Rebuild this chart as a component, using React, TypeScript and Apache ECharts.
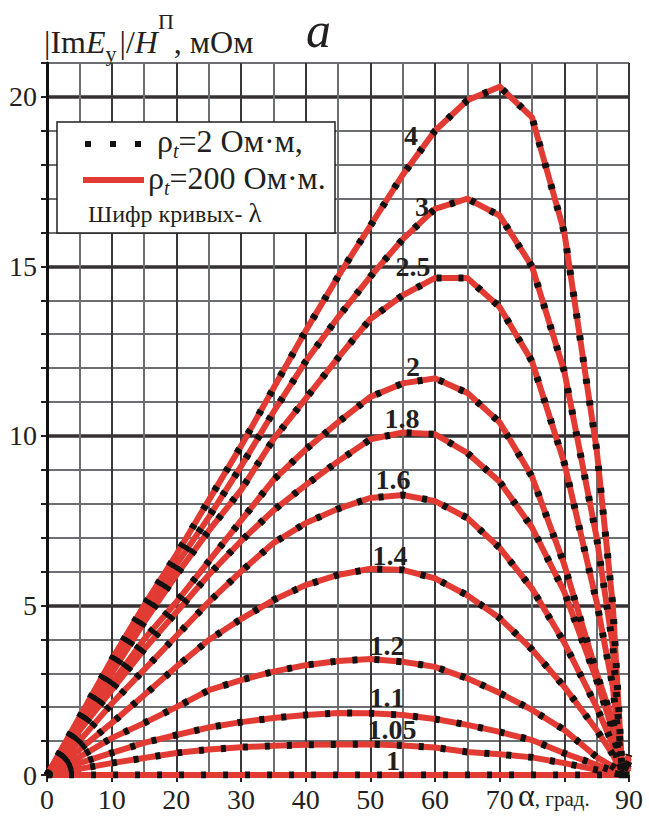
import React, { useEffect, useRef } from "react";
import * as echarts from "echarts";

// angle values (degrees)
const alpha = [0, 5, 10, 15, 20, 25, 30, 35, 40, 45, 50, 55, 60, 65, 70, 75, 80, 85, 87.5, 89, 90];

// curve cipher λ
const lambdaNames = ["4", "3", "2.5", "2", "1.8", "1.6", "1.4", "1.2", "1.1", "1.05", "1"];

// |Im Ey|/H, mOhm
const curve4 = [0, 1.7, 3.4, 5.0, 6.5, 8.1, 9.7, 11.4, 13.1, 14.7, 16.2, 17.7, 19.0, 19.9, 20.3, 19.4, 16.0, 9.6, 5.0, 0, 0.6];
const curve3 = [0, 1.6, 3.2, 4.7, 6.2, 7.6, 9.1, 10.7, 12.2, 13.5, 14.7, 15.8, 16.7, 17.0, 16.5, 15.0, 11.9, 7.0, 3.8, 0, 0.5];
const curve25 = [0, 1.5, 3.0, 4.5, 5.9, 7.2, 8.4, 9.9, 11.1, 12.3, 13.45, 14.15, 14.66, 14.66, 13.8, 12.2, 9.2, 5.1, 2.6, 0, 0.4];
const curve2 = [0, 1.4, 2.7, 4.0, 5.1, 6.3, 7.5, 8.7, 9.6, 10.4, 11.15, 11.55, 11.7, 11.27, 10.4, 8.8, 6.2, 3.0, 1.6, 0, 0.3];
const curve18 = [0, 1.3, 2.5, 3.7, 4.8, 5.9, 6.9, 7.8, 8.55, 9.25, 9.9, 10.1, 10.05, 9.5, 8.65, 7.3, 5.4, 2.8, 1.3, 0, 0.25];
const curve16 = [0, 1.0, 2.1, 3.1, 4.1, 5.1, 6.0, 6.84, 7.43, 7.85, 8.17, 8.26, 8.08, 7.58, 6.7, 5.5, 3.9, 2.0, 0.9, 0, 0.2];
const curve14 = [0, 0.75, 1.53, 2.35, 3.19, 3.98, 4.6, 5.16, 5.6, 5.9, 6.08, 6.05, 5.8, 5.3, 4.63, 3.7, 2.6, 1.33, 0.6, 0, 0.1];
const curve12 = [0, 0.53, 1.09, 1.53, 2.0, 2.5, 2.8, 3.05, 3.24, 3.36, 3.42, 3.34, 3.19, 2.85, 2.42, 1.92, 1.33, 0.53, 0.25, 0, 0];
const curve11 = [0, 0.35, 0.65, 0.95, 1.18, 1.4, 1.56, 1.68, 1.77, 1.83, 1.82, 1.77, 1.65, 1.48, 1.27, 1.03, 0.64, 0.3, 0.12, 0, 0];
const curve105 = [0, 0.18, 0.35, 0.5, 0.65, 0.75, 0.82, 0.86, 0.89, 0.9, 0.91, 0.87, 0.81, 0.68, 0.61, 0.52, 0.35, 0.15, 0.06, 0, 0];
const curve1 = [0, 0, 0, 0, 0, 0, 0, 0, 0, 0, 0, 0, 0, 0, 0, 0, 0, 0, 0, 0, 0];

const curves = [curve4, curve3, curve25, curve2, curve18, curve16, curve14, curve12, curve11, curve105, curve1];

// label anchor positions (px) for curve ciphers
const labelPos: [number, number][] = [
  [411, 135], [422, 206], [413, 266], [413, 366], [402, 418], [393, 479],
  [390, 555], [387, 645], [387, 697], [392, 729], [393, 760],
];

const SERIF = "'Liberation Serif', 'Times New Roman', serif";
const RED = "#e23b33";
const INK = "#231f20";

let measureCtx: CanvasRenderingContext2D | null = null;
function measure(text: string, font: string) {
  if (!measureCtx) measureCtx = document.createElement("canvas").getContext("2d");
  if (!measureCtx) return text.length * 10;
  measureCtx.font = font;
  return measureCtx.measureText(text).width;
}

type Part = { t: string; size: number; italic?: boolean; bold?: boolean; dy?: number; dx?: number };

function runText(x0: number, baseline: number, parts: Part[]) {
  let x = x0;
  const els: any[] = [];
  for (const p of parts) {
    const font = `${p.italic ? "italic " : ""}${p.bold ? "bold " : ""}${p.size}px ${SERIF}`;
    const w = measure(p.t, font);
    const b = baseline + (p.dy || 0);
    x += p.dx || 0;
    els.push({
      type: "text",
      x,
      y: b - 0.34 * p.size,
      z: 100,
      style: {
        text: p.t,
        fontSize: p.size,
        fontFamily: SERIF,
        fontStyle: p.italic ? "italic" : "normal",
        fontWeight: p.bold ? "bold" : "normal",
        fill: INK,
        align: "left",
        verticalAlign: "middle",
      },
    });
    x += w;
  }
  return els;
}

export default function App() {
  const ref = useRef<HTMLDivElement>(null);

  useEffect(() => {
    if (!ref.current) return;
    const chart = echarts.init(ref.current, null, { renderer: "svg" });

    const redSeries = curves.map((vals, i) => ({
      name: "red-" + lambdaNames[i],
      type: "line",
      data: alpha.map((a, k) => [a, vals[k]]),
      symbol: "none",
      z: 2,
      lineStyle: { color: RED, width: 6, cap: "butt", join: "miter" },
    }));
    const blackSeries = curves.map((vals, i) => ({
      name: "black-" + lambdaNames[i],
      type: "line",
      data: alpha.map((a, k) => [a, vals[k]]),
      symbol: "none",
      z: 3,
      lineStyle: { color: "#111", width: 7, type: [5, 17], cap: "butt" },
    }));

    const graphics: any[] = [];
    // title
    graphics.push(
      ...runText(44, 53, [
        { t: "|Im", size: 32 },
        { t: "E", size: 32, italic: true },
        { t: "y", size: 22, dy: 8 },
        { t: "|/", size: 32, dx: 3 },
        { t: "H", size: 32, italic: true },
        { t: "П", size: 22, dy: -24 },
        { t: ", мОм", size: 32 },
      ])
    );
    graphics.push(...runText(306, 47, [{ t: "a", size: 50, italic: true }]));

    // legend box
    graphics.push({
      type: "rect",
      z: 99,
      shape: { x: 57, y: 122, width: 278, height: 111 },
      style: { fill: "#fff", stroke: INK, lineWidth: 1.5 },
    });
    graphics.push({
      type: "line",
      z: 100,
      shape: { x1: 85, y1: 144, x2: 143, y2: 144 },
      style: { stroke: "#111", lineWidth: 6, lineDash: [6, 19] },
    });
    graphics.push({
      type: "line",
      z: 100,
      shape: { x1: 83, y1: 180, x2: 144, y2: 180 },
      style: { stroke: RED, lineWidth: 6 },
    });
    graphics.push(
      ...runText(157, 152, [
        { t: "ρ", size: 32 },
        { t: "t", size: 20, italic: true, dy: 6 },
        { t: "=2 Ом·м,", size: 32 },
      ])
    );
    graphics.push(
      ...runText(148, 189, [
        { t: "ρ", size: 32 },
        { t: "t", size: 20, italic: true, dy: 6 },
        { t: "=200 Ом·м.", size: 32 },
      ])
    );
    graphics.push(...runText(88, 222, [{ t: "Шифр кривых- ", size: 24 }, { t: "λ", size: 27 }]));

    // curve labels
    lambdaNames.forEach((nm, i) => {
      graphics.push({
        type: "text",
        x: labelPos[i][0],
        y: labelPos[i][1],
        z: 100,
        style: {
          text: nm,
          fontSize: 28,
          fontWeight: "bold",
          fontFamily: SERIF,
          fill: INK,
          align: "center",
          verticalAlign: "middle",
        },
      });
    });

    // x-axis name
    graphics.push(...runText(518, 806, [{ t: "α", size: 32 }, { t: ", град.", size: 21 }]));

    chart.setOption({
      animation: false,
      backgroundColor: "#fff",
      grid: { left: 47, right: 20, top: 63, bottom: 41, containLabel: false },
      xAxis: [
        {
          type: "value",
          min: 0,
          max: 90,
          interval: 5,
          position: "bottom",
          axisLine: { show: false, onZero: false },
          axisTick: { show: false },
          axisLabel: { show: false },
          splitLine: { show: true, lineStyle: { color: "#6d6e71", width: 2 } },
        },
        {
          type: "value",
          min: 0,
          max: 90,
          interval: 10,
          position: "bottom",
          axisLine: { show: true, onZero: false, lineStyle: { color: INK, width: 2 } },
          axisTick: { show: true, length: 7, lineStyle: { color: INK, width: 2 } },
          axisLabel: {
            show: true,
            margin: 10,
            fontSize: 28,
            fontFamily: SERIF,
            color: INK,
            formatter: (v: number) => (v === 80 ? "" : String(v)),
          },
          splitLine: { show: true, lineStyle: { color: "#3a3637", width: 2 } },
        },
      ],
      yAxis: [
        {
          type: "value",
          min: 0,
          max: 21,
          interval: 1,
          position: "left",
          axisLine: { show: false, onZero: false },
          axisTick: { show: true, length: 6, lineStyle: { color: INK, width: 2 } },
          axisLabel: { show: false },
          splitLine: { show: true, lineStyle: { color: "#6d6e71", width: 2 } },
        },
        {
          type: "value",
          min: 0,
          max: 21,
          interval: 5,
          position: "left",
          axisLine: { show: true, onZero: false, lineStyle: { color: "#111", width: 3 } },
          axisTick: { show: false },
          axisLabel: {
            show: true,
            margin: 10,
            fontSize: 28,
            fontFamily: SERIF,
            color: INK,
            showMaxLabel: false,
            formatter: (v: number) => (v % 5 === 0 ? String(v) : ""),
          },
          splitLine: { show: true, showMaxLine: false, lineStyle: { color: "#353132", width: 3.5 } },
        },
      ],
      series: [...redSeries, ...blackSeries],
      graphic: graphics,
    });

    return () => chart.dispose();
  }, []);

  return (
    <div
      ref={ref}
      style={{ position: "fixed", left: 0, top: 0, width: 649, height: 816, background: "#fff" }}
    />
  );
}
